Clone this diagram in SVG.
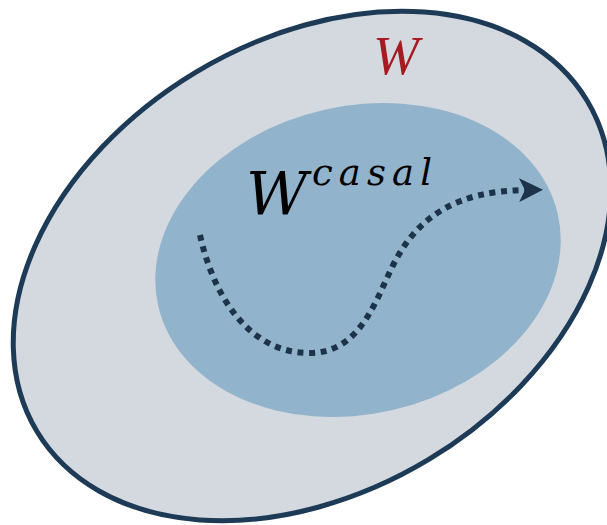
<svg xmlns="http://www.w3.org/2000/svg" width="607" height="525" viewBox="0 0 607 525">
<style>
.outer{fill:#d4d9df;stroke:#1d3a56;stroke-width:5}
.inner{fill:#91b3cb}
.path{fill:none;stroke:#1c3349;stroke-width:6;stroke-dasharray:6 5.6}
.lblW{font-family:"Liberation Serif",serif;font-style:italic;fill:#a51b21}
.math{font-family:"DejaVu Serif","Liberation Serif",serif;font-style:italic;fill:#000}
</style>
<defs>
<marker id="arrow" viewBox="0 0 24 24" markerWidth="24" markerHeight="24" markerUnits="userSpaceOnUse" refX="6" refY="12" orient="auto">
<path d="M0,0 L24,12 L0,24 L6,12 z" fill="#1c3349"/>
</marker>
</defs>
<rect width="607" height="525" fill="#ffffff"/>
<g id="W">
<ellipse class="outer" cx="312" cy="266" rx="321" ry="226" transform="rotate(-31 312 266)"/>
<text class="lblW" x="373" y="74" font-size="55">W</text>
</g>
<g id="Wcasal">
<ellipse class="inner" cx="358" cy="260" rx="205" ry="154" transform="rotate(-13 358 260)"/>
<text class="math" x="246" y="215" font-size="60">W</text>
<text class="math" x="312" y="185" font-size="37" textLength="120" lengthAdjust="spacing">casal</text>
</g>
<g id="connectors">
<path class="path" d="M200,235 C212,290 245,352 308,353 C365,354 378,290 398,256 C420,218 455,191 525,190" marker-end="url(#arrow)"/>
</g>
</svg>
